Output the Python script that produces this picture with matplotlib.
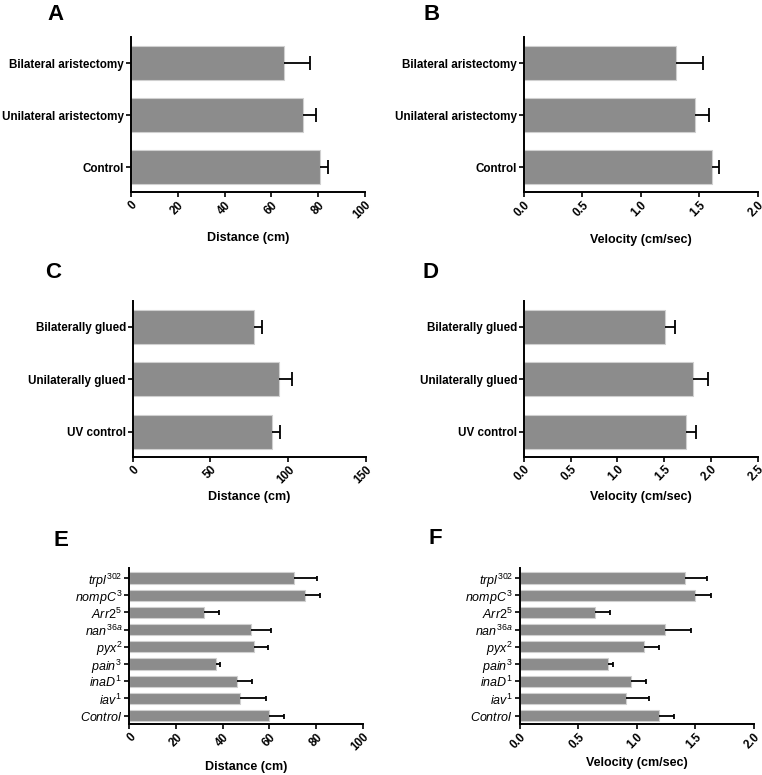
import matplotlib
matplotlib.use("Agg")
import matplotlib.pyplot as plt
import numpy as np

plt.rcParams['font.family'] = 'Liberation Sans'
plt.rcParams['mathtext.fontset'] = 'custom'
plt.rcParams['mathtext.rm'] = 'Liberation Sans'
plt.rcParams['mathtext.it'] = 'Liberation Sans:italic'
plt.rcParams['mathtext.bf'] = 'Liberation Sans:bold'

# ---- data (bottom category first) ----
arist_groups = ["Control", "Unilateral aristectomy", "Bilateral aristectomy"]
arist_dist = [80.8, 73.3, 65.4]
arist_dist_err = [3.2, 5.7, 11.1]
arist_vel = [1.61, 1.46, 1.30]
arist_vel_err = [0.06, 0.125, 0.23]

glue_groups = ["UV control", "Unilaterally glued", "Bilaterally glued"]
glue_dist = [89.4, 94.3, 78.0]
glue_dist_err = [5.3, 8.1, 4.9]
glue_vel = [1.73, 1.81, 1.51]
glue_vel_err = [0.11, 0.16, 0.10]

mutants = [r"$Control$", r"$iav^{1}$", r"$inaD^{1}$", r"$pain^{3}$", r"$pyx^{2}$",
           r"$nan^{36a}$", r"$Arr2^{5}$", r"$nompC^{3}$", r"$trpl^{302}$"]
mut_dist = [59.7, 47.6, 46.2, 37.2, 53.6, 52.2, 32.0, 75.3, 70.7]
mut_dist_err = [6.7, 11.0, 6.5, 1.8, 6.0, 8.4, 6.6, 6.6, 9.6]
mut_vel = [1.19, 0.91, 0.95, 0.754, 1.064, 1.244, 0.64, 1.50, 1.412]
mut_vel_err = [0.13, 0.197, 0.13, 0.04, 0.123, 0.22, 0.128, 0.132, 0.188]

W, H = 762, 775
fig = plt.figure(figsize=(W / 100, H / 100), dpi=100)


def px_axes(left, right, top, bottom):
    return fig.add_axes([left / W, 1 - bottom / H, (right - left) / W, (bottom - top) / H])


def ticks_fmt(ticks):
    if all(float(t).is_integer() for t in ticks):
        return [str(int(t)) for t in ticks]
    return ["%.1f" % t for t in ticks]


def panel(ax, labels, vals, errs, xmax, ticks, xlabel, ylim, italic, capsize, label_y):
    y = np.arange(len(labels))
    bars = ax.barh(y, vals, height=0.65, color='#8c8c8c', edgecolor='#d0d0d0', linewidth=0.8,
                   xerr=[np.zeros(len(errs)), errs],
                   error_kw=dict(ecolor='black', elinewidth=1.3, capsize=capsize, capthick=1.3))
    # only keep the cap at the far end of each error bar
    for cap in bars.errorbar.lines[1]:
        if np.allclose(cap.get_xdata(), vals):
            cap.set_visible(False)
    ax.set_xlim(0, xmax)
    ax.set_ylim(*ylim)
    ax.set_xticks(ticks)
    ax.set_xticklabels(ticks_fmt(ticks), rotation=45, ha='right', rotation_mode='anchor',
                       fontsize=8.4, fontweight='bold')
    ax.set_yticks(y)
    if italic:
        ax.set_yticklabels(labels, fontsize=9)
    else:
        ax.set_yticklabels(labels, fontsize=8.4, fontweight='bold')
    for s in ['top', 'right']:
        ax.spines[s].set_visible(False)
    for s in ['left', 'bottom']:
        ax.spines[s].set_linewidth(1.4)
    ax.tick_params(direction='out', length=3.5, width=1.2, pad=1.5)
    ax.set_xlabel(xlabel, fontsize=9, fontweight='bold')
    ax.xaxis.set_label_coords(0.5, label_y)
    ax.xaxis.label.set_verticalalignment('center')


axA = px_axes(131, 365, 37, 192)
panel(axA, arist_groups, arist_dist, arist_dist_err, 100, [0, 20, 40, 60, 80, 100],
      "Distance (cm)", (-0.48, 2.5), False, 5.0, -(238 - 192) / 155)
axB = px_axes(524, 757.7, 37, 192)
panel(axB, arist_groups, arist_vel, arist_vel_err, 2.0, [0.0, 0.5, 1.0, 1.5, 2.0],
      "Velocity (cm/sec)", (-0.48, 2.5), False, 5.0, -(240 - 192) / 155)
axC = px_axes(132.7, 366, 300.7, 456.7)
panel(axC, glue_groups, glue_dist, glue_dist_err, 150, [0, 50, 100, 150],
      "Distance (cm)", (-0.48, 2.5), False, 5.0, -(497 - 456.7) / 156)
axD = px_axes(524, 757.7, 300.7, 456.7)
panel(axD, glue_groups, glue_vel, glue_vel_err, 2.5, [0.0, 0.5, 1.0, 1.5, 2.0, 2.5],
      "Velocity (cm/sec)", (-0.48, 2.5), False, 5.0, -(497 - 456.7) / 156)
axE = px_axes(129.3, 362.7, 568, 724.3)
panel(axE, mutants, mut_dist, mut_dist_err, 100, [0, 20, 40, 60, 80, 100],
      "Distance (cm)", (-0.5, 8.58), True, 1.8, -(767 - 724.3) / 156)
axF = px_axes(519.8, 753.8, 568, 724.3)
panel(axF, mutants, mut_vel, mut_vel_err, 2.0, [0.0, 0.5, 1.0, 1.5, 2.0],
      "Velocity (cm/sec)", (-0.5, 8.58), True, 1.8, -(763 - 724.3) / 156)

# panel letters
for letter, x, y in [("A", 55, 15), ("B", 432, 15), ("C", 53, 272), ("D", 431, 272),
                     ("E", 61, 540), ("F", 435, 539)]:
    fig.text(x / W, 1 - y / H, letter, fontsize=16, fontweight='bold', ha='center', va='center')

fig.savefig("out.png", dpi=100)
